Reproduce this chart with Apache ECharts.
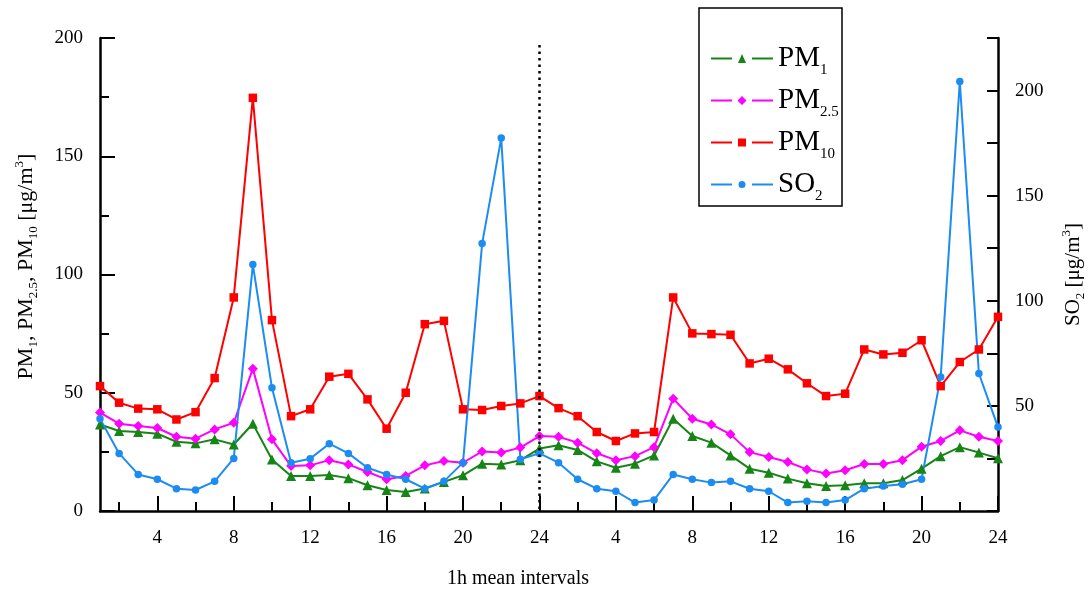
<!DOCTYPE html>
<html>
<head>
<meta charset="utf-8">
<script src="https://cdn.jsdelivr.net/npm/echarts@6/dist/echarts.min.js"></script>
<style>
  html, body { margin: 0; padding: 0; background: #fff; }
  #chart { width: 1091px; height: 590px; }
</style>
</head>
<body>
<div id="chart"></div>
<script>
// Hour of day for each 1 h mean (two consecutive days)
const hourLabels = ['1','2','3','4','5','6','7','8','9','10','11','12','13','14','15','16','17','18','19','20','21','22','23','24',
                    '1','2','3','4','5','6','7','8','9','10','11','12','13','14','15','16','17','18','19','20','21','22','23','24'];
const slots = ['1','2','3','4','5','6','7','8','9','10','11','12','13','14','15','16','17','18','19','20','21','22','23','24',
               '25','26','27','28','29','30','31','32','33','34','35','36','37','38','39','40','41','42','43','44','45','46','47','48'];

// Concentrations, µg/m3
const pm1 = [36.6,33.8,33.4,32.7,29.3,28.6,30.3,28.1,36.9,21.8,14.8,14.8,15.2,13.9,10.9,8.9,8.0,9.5,12.3,15.1,20.0,19.7,21.5,26.4,
             27.8,25.8,21.0,18.3,20.0,23.5,39.0,31.7,28.9,23.5,17.9,16.2,13.7,11.7,10.6,10.9,11.7,11.7,13.1,17.9,23.2,27.0,24.7,22.3];
const pm25 = [41.6,36.9,35.9,35.1,31.4,30.6,34.5,37.3,60.2,30.3,19.0,19.3,21.5,19.7,16.5,13.4,14.8,19.3,21.1,20.4,25.2,24.7,26.8,31.7,
              31.4,28.9,24.4,21.5,23.2,27.0,47.5,39.0,36.6,32.4,24.9,22.8,20.7,17.6,15.9,17.2,19.9,19.9,21.5,27.2,29.6,34.1,31.4,29.6];
const pm10 = [52.8,45.8,43.3,43.0,38.7,41.8,56.2,90.3,174.7,80.7,40.1,43.0,56.8,58.0,47.2,34.8,50.0,79.0,80.4,43.0,42.7,44.4,45.5,48.6,
              43.5,40.1,33.4,29.6,32.8,33.4,90.3,75.1,74.8,74.5,62.4,64.4,59.9,54.0,48.6,49.6,68.3,66.2,66.9,72.2,52.8,63.0,68.3,82.1];
const so2 = [43.9,27.4,17.4,15.1,10.6,10.0,14.1,25.0,117.2,58.6,23.0,24.9,32.0,27.4,20.6,17.4,15.1,10.6,14.1,23.0,127.2,177.4,24.6,27.4,
             23.0,15.1,10.6,9.4,4.0,5.2,17.4,15.1,13.5,14.1,10.6,9.4,4.0,4.6,4.0,5.2,10.6,11.9,12.7,15.1,63.8,204.3,65.4,39.9];

// End of the first day
const dayBreak = { slot: 23, top: 197 };

const FONT = "'Liberation Serif', 'Times New Roman', serif";
const colors = { pm1: '#168516', pm25: '#ff00ff', pm10: '#ff0000', so2: '#1c8cf2' };

// Legend icons: dash, marker, dash
const icons = {
  pm1:  'path://M0 3.6H21V5.4H0Z M41 3.6H62V5.4H41Z M27 9L31 0L35 9Z',
  pm25: 'path://M0 3.6H21V5.4H0Z M41 3.6H62V5.4H41Z M31 0L35.5 4.5L31 9L26.5 4.5Z',
  pm10: 'path://M0 3.6H21V5.4H0Z M41 3.6H62V5.4H41Z M27 0.5H35V8.5H27Z',
  so2:  'path://M0 3.6H21V5.4H0Z M41 3.6H62V5.4H41Z M31 1A3.5 3.5 0 1 1 31 8A3.5 3.5 0 1 1 31 1Z'
};
const legendText = {
  'PM1': '{pm|PM}{sub|1}',
  'PM2.5': '{pm|PM}{sub|2.5}',
  'PM10': '{pm|PM}{sub|10}',
  'SO2': '{pm|SO}{sub|2}'
};

function nameRich(size) {
  return {
    t: { fontFamily: FONT, fontSize: size, color: '#000' },
    s: { fontFamily: FONT, fontSize: 13, color: '#000', padding: [14, 0, 0, 0] },
    p: { fontFamily: FONT, fontSize: 13, color: '#000', padding: [0, 0, 14, 0] }
  };
}

function lineSeries(name, data, color, symbol, size, yIdx) {
  return {
    name: name, type: 'line', data: data, yAxisIndex: yIdx, xAxisIndex: 0,
    symbol: symbol, symbolSize: size, showSymbol: true,
    lineStyle: { color: color, width: 2 },
    itemStyle: { color: color, borderWidth: 0 },
    emphasis: { disabled: true },
    animation: false
  };
}

const chart = echarts.init(document.getElementById('chart'), null, { renderer: 'canvas' });

const series = [
  lineSeries('PM1', pm1, colors.pm1, 'triangle', 10, 0),
  lineSeries('PM2.5', pm25, colors.pm25, 'diamond', 10, 0),
  lineSeries('PM10', pm10, colors.pm10, 'rect', 8.5, 0),
  lineSeries('SO2', so2, colors.so2, 'circle', 7.5, 1)
];
series[0].markLine = {
  silent: true, symbol: 'none', animation: false,
  label: { show: false },
  lineStyle: { color: '#000', width: 2.5, type: [2.5, 4] },
  data: [[{ coord: [dayBreak.slot, dayBreak.top] }, { coord: [dayBreak.slot, 0] }]]
};

const axisLine = { show: true, lineStyle: { color: '#000', width: 2.5 } };
const tickLabel = { fontFamily: FONT, fontSize: 19, color: '#000' };

chart.setOption({
  backgroundColor: '#fff',
  animation: false,
  grid: { left: 100, right: 93, top: 38, bottom: 79, containLabel: false, outerBoundsMode: 'none' },
  legend: {
    orient: 'vertical', left: 711, top: 44, padding: 0,
    itemWidth: 62, itemHeight: 9, itemGap: 8,
    selectedMode: false,
    itemStyle: { borderWidth: 0 },
    data: [
      { name: 'PM1', icon: icons.pm1 },
      { name: 'PM2.5', icon: icons.pm25 },
      { name: 'PM10', icon: icons.pm10 },
      { name: 'SO2', icon: icons.so2 }
    ],
    formatter: function (name) { return legendText[name]; },
    textStyle: {
      rich: {
        pm: { fontFamily: FONT, fontSize: 29, color: '#000' },
        sub: { fontFamily: FONT, fontSize: 15, color: '#000', padding: [24, 0, 0, 0] }
      }
    }
  },
  graphic: [{
    type: 'rect', silent: true, z: 10,
    shape: { x: 699, y: 8, width: 143, height: 198 },
    style: { fill: 'none', stroke: '#000', lineWidth: 1.5 }
  }],
  xAxis: [{
    type: 'category', data: slots, boundaryGap: false, position: 'bottom',
    axisLine: axisLine,
    axisTick: { show: true, inside: true, length: 15, lineStyle: { color: '#000', width: 2 },
                interval: function (i) { return (i + 1) % 4 === 0; } },
    axisLabel: { ...tickLabel, margin: 18,
                 interval: function (i) { return (i + 1) % 4 === 0; },
                 formatter: function (v, i) { return hourLabels[i]; } },
    splitLine: { show: false },
    name: '1h mean intervals', nameLocation: 'middle', nameGap: 58,
    nameTextStyle: { fontFamily: FONT, fontSize: 20, color: '#000', padding: [0, 62, 0, 0] }
  }, {
    type: 'category', data: slots, boundaryGap: false, position: 'bottom',
    axisLine: { show: false },
    axisTick: { show: true, inside: true, length: 9, lineStyle: { color: '#000', width: 2 },
                interval: function (i) { return (i + 1) % 2 === 0 && (i + 1) % 4 !== 0; } },
    axisLabel: { show: false },
    splitLine: { show: false }
  }],
  yAxis: [{
    type: 'value', min: 0, max: 200, interval: 50, position: 'left',
    axisLine: axisLine,
    axisTick: { show: true, inside: true, length: 15, lineStyle: { color: '#000', width: 2 } },
    minorTick: { show: true, splitNumber: 2, length: 9, lineStyle: { color: '#000', width: 2 } },
    axisLabel: { ...tickLabel, margin: 17 },
    splitLine: { show: false },
    minorSplitLine: { show: false },
    name: '{t|PM}{s|1}{t|, PM}{s|2.5}{t|, PM}{s|10}{t| [μg/m}{p|3}{t|]}',
    nameLocation: 'middle', nameRotate: 90, nameGap: 60,
    nameTextStyle: { rich: nameRich(22), padding: [0, 0, 0, 16] }
  }, {
    type: 'value', min: 0, max: 225, interval: 25, position: 'right',
    axisLine: axisLine,
    axisTick: { show: true, inside: true, length: 11, lineStyle: { color: '#000', width: 2 } },
    axisLabel: { ...tickLabel, margin: 17,
                 formatter: function (v) { return (v > 0 && v % 50 === 0) ? String(v) : ''; } },
    splitLine: { show: false },
    name: '{t|SO}{s|2}{t| [μg/m}{p|3}{t|]}',
    nameLocation: 'middle', nameRotate: 90, nameGap: 62,
    nameTextStyle: { rich: nameRich(21) }
  }],
  series: series
});
</script>
</body>
</html>
